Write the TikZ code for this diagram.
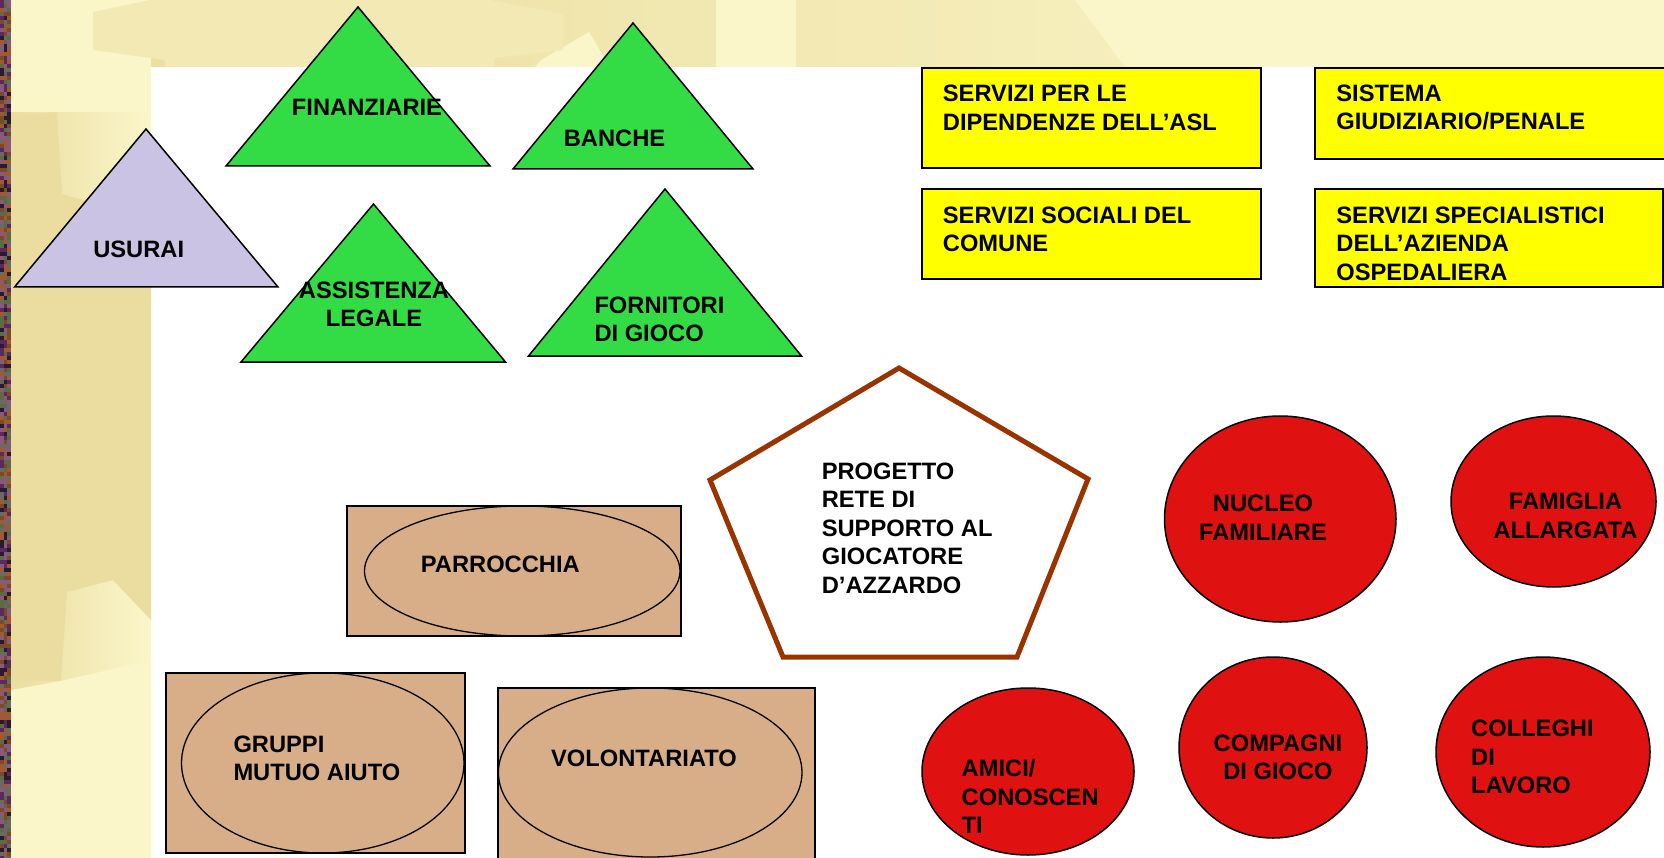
\documentclass[tikz,border=0pt]{standalone}
\usepackage{fontspec}
\setmainfont{Liberation Sans}
\usepackage{tikz}
\definecolor{usuraiLilac}{HTML}{CBC3E3}
\definecolor{triGreen}{HTML}{33DC45}
\definecolor{boxYellow}{HTML}{FFFF00}
\definecolor{boxTan}{HTML}{D8AE88}
\definecolor{ovalRed}{HTML}{E01111}
\definecolor{penBrown}{HTML}{993300}
\definecolor{bgDark}{HTML}{EADD9F}
\definecolor{bgMid}{HTML}{F2E9B4}
\definecolor{bgLight}{HTML}{FBF6CA}
\definecolor{noiseA}{HTML}{5A2A5E}
\definecolor{noiseB}{HTML}{7A4A2A}
\definecolor{noiseC}{HTML}{5D6A45}
\definecolor{noiseD}{HTML}{2A1A30}
\definecolor{noiseE}{HTML}{8A5A7A}
\definecolor{noiseF}{HTML}{A05A30}
\definecolor{noiseG}{HTML}{6A6A60}
\pgfmathdeclarerandomlist{noise}{{noiseA}{noiseB}{noiseC}{noiseD}{noiseE}{noiseF}{noiseG}}
\tikzset{
  lbl/.style={font=\fontsize{23.7}{28.5}\selectfont\bfseries, inner sep=0pt},
  lblL/.style={lbl, anchor=west, align=left},
  lblC/.style={lbl, align=center},
  tri/.style={draw=black, line width=1.5pt},
  ybox/.style={fill=boxYellow, draw=black, line width=2pt},
  tbox/.style={fill=boxTan, draw=black, line width=1.5pt},
  tell/.style={draw=black, line width=1.3pt},
  rell/.style={fill=ovalRed, draw=black, line width=1.5pt},
}

\begin{document}
\begin{tikzpicture}[x=1pt, y=-1pt]
		\useasboundingbox (0,0) rectangle (1664,858);
		\clip (0,0) rectangle (1664,858);
		% background
		\fill[white] (0,0) rectangle (1664,858);
		\shade[left color=bgDark, right color=bgLight] (11,0) rectangle (1664,67);
		\shade[left color=bgDark, right color=bgLight] (11,0) rectangle (151,858);
		\fill[bgLight] (11,0) rectangle (151,112);
		\fill[bgLight] (1075,0) -- (1664,0) -- (1664,67) -- (1125,67) -- cycle;
		\fill[bgLight] (716,0) rectangle (796,67);
		\fill[bgLight] (541,60) -- (589,32) -- (610,67) -- (535,67) -- cycle;
		\fill[bgMid] (93,12) -- (150,0) -- (490,0) -- (563,14) -- (563,50) -- (494,58) -- (494,67) -- (165,67) -- (165,60) -- (93,50) -- cycle;
		\fill[bgDark] (11,116) -- (57,112) -- (62,194) -- (100,205) -- (151,200) -- (151,620) -- (113,580) -- (67,592) -- (61,681) -- (11,680) -- cycle;
		\fill[bgLight] (11,690) -- (61,681) -- (151,660) -- (151,858) -- (11,858) -- cycle;
		% noise strip
		\pgfmathsetseed{7}
		\foreach \i in {0,...,214} {
			\foreach \j in {0,1,2} {
				\pgfmathrandomitem{\c}{noise}
				\fill[\c] ({\j*3.67},{\i*4}) rectangle ++(3.67,4);
			}
		}
		% triangles
		\filldraw[tri, fill=usuraiLilac] (14.5,287) -- (146,129) -- (278,287) -- cycle;
		\filldraw[tri, fill=triGreen] (226,166) -- (358,7) -- (490,166) -- cycle;
		\filldraw[tri, fill=triGreen] (513,169) -- (633,23) -- (753,169) -- cycle;
		\filldraw[tri, fill=triGreen] (241,362) -- (373.5,204) -- (505.5,362) -- cycle;
		\filldraw[tri, fill=triGreen] (528.5,356) -- (665,189) -- (801.5,356) -- cycle;
		\node[lbl] (usurai) at (138.7,249.5) {USURAI};
		\node[lbl] (finanziarie) at (367,107.7) {FINANZIARIE};
		\node[lbl] (banche) at (614.5,138.3) {BANCHE};
		\node[lblC] (legale) at (374,304.2) {ASSISTENZA\\LEGALE};
		\node[lblL] (fornitori) at (594.3,319.2) {FORNITORI\\DI GIOCO};
		% services
		\filldraw[ybox] (921.6,68) rectangle (1261,168);
		\filldraw[ybox] (1314.5,68) rectangle (1680,159);
		\filldraw[ybox] (921.6,189) rectangle (1261,279);
		\filldraw[ybox] (1314.5,189) rectangle (1662.6,287);
		\node[lblL] (asl) at (942.7,107.7) {SERVIZI PER LE\\DIPENDENZE DELL’ASL};
		\node[lblL] (giustizia) at (1336.2,107.7) {SISTEMA\\GIUDIZIARIO/PENALE};
		\node[lblL] (comune) at (942.7,229.5) {SERVIZI SOCIALI DEL\\COMUNE};
		\node[lblL] (ospedale) at (1336.2,243.7) {SERVIZI SPECIALISTICI\\DELL’AZIENDA\\OSPEDALIERA};
		% community
		\filldraw[tbox] (347,506) rectangle (681,636);
		\draw[tell] (522.25,571) ellipse [x radius=157.75pt, y radius=65pt];
		\filldraw[tbox] (166,673) rectangle (465,853);
		\draw[tell] (322.75,763) ellipse [x radius=141.25pt, y radius=90pt];
		\filldraw[tbox] (498,688) rectangle (815,880);
		\draw[tell] (650.2,772.5) ellipse [x radius=151.8pt, y radius=84.5pt];
		\node[lbl] (parrocchia) at (500.3,564.7) {PARROCCHIA};
		\node[lblL] (gruppi) at (233.3,758.3) {GRUPPI\\MUTUO AIUTO};
		\node[lbl] (volontariato) at (644,758) {VOLONTARIATO};
		% project
		\filldraw[draw=penBrown, fill=white, line width=5pt] (899,368) -- (1088,479) -- (1017,657) -- (783,657) -- (710,480) -- cycle;
		\node[lblL] (progetto) at (821.6,528.3) {PROGETTO\\RETE DI\\SUPPORTO AL\\GIOCATORE\\D’AZZARDO};
		% relations
		\filldraw[rell] (1280.25,519) ellipse [x radius=115.75pt, y radius=103pt];
		\filldraw[rell] (1553.5,501.5) ellipse [x radius=102.5pt, y radius=85.5pt];
		\filldraw[rell] (1028,771.5) ellipse [x radius=106pt, y radius=83.5pt];
		\filldraw[rell] (1273,747.5) ellipse [x radius=94pt, y radius=90.5pt];
		\filldraw[rell] (1543,752) ellipse [x radius=107pt, y radius=95pt];
		\node[lblC] (nucleo) at (1263,517.5) {NUCLEO\\FAMILIARE};
		\node[lblC] (famiglia) at (1565.5,516) {FAMIGLIA\\ALLARGATA};
		\node[lblL] (amici) at (961.5,796.9) {AMICI/\\CONOSCEN\\TI};
		\node[lblC] (compagni) at (1278,757.3) {COMPAGNI\\DI GIOCO};
		\node[lblL] (colleghi) at (1471,757) {COLLEGHI\\DI\\LAVORO};
	\end{tikzpicture}
\end{document}
